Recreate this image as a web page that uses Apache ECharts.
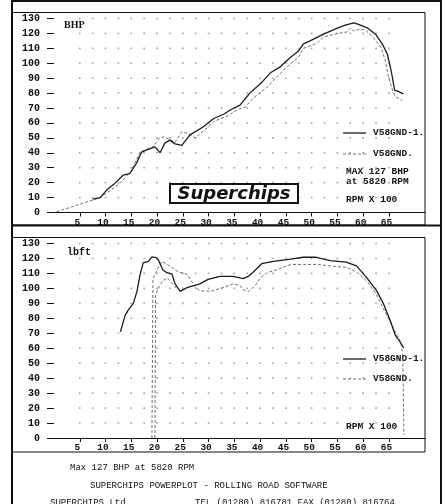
<!DOCTYPE html>
<html>
<head>
<meta charset="utf-8">
<title>Superchips powerplot</title>
<script src="https://cdn.jsdelivr.net/npm/echarts@6.0.0/dist/echarts.min.js"></script>
<style>
  html, body { margin: 0; padding: 0; background: #fff; }
  #main { width: 446px; height: 504px; }
</style>
</head>
<body>
<div id="main"></div>
<script>
// rpm x 100 on the x axis, [rpm, value] pairs
const bhpTuned = [
  [7.5, 9], [9, 10], [10.2, 15], [11.8, 19.5], [13.4, 25], [14.7, 26], [16, 33],
  [17, 40.5], [18, 42], [19.6, 44], [20.6, 40], [21.5, 46.5], [22.5, 48.5],
  [23.5, 46], [24.8, 45], [26.4, 52], [29, 57.5], [31, 63], [33, 66], [34.2, 68.7],
  [36.1, 72], [38, 80], [40.4, 87.5], [42, 93.6], [43.9, 97.6], [45.8, 103.7],
  [47.4, 108], [48.4, 113], [49.7, 115], [52.3, 119.5], [55, 123.5], [56.5, 125.5],
  [58.2, 127], [59.1, 126], [60.9, 123.5], [62.4, 119.5], [63.7, 113], [64.7, 106],
  [65.3, 97], [65.7, 90], [66.1, 82], [66.9, 81], [67.8, 79.5]
];
const bhpStock = [
  [0.5, 0.5], [9, 10], [12.8, 19.5], [15, 28], [16.7, 40.5], [19.2, 44], [20.6, 50.5],
  [21.5, 50.5], [23.5, 47], [24.8, 54], [26, 53], [27.4, 50], [29.7, 56.6], [31, 61],
  [33.8, 65], [35.5, 68.7], [37.1, 70.7], [38.7, 76.8], [41.4, 84], [43.3, 91],
  [45.2, 97.6], [47.4, 104], [48.4, 110], [51.1, 113.5], [52.3, 117.5], [55, 120],
  [56.9, 121], [57.5, 123.5], [58.2, 121.5], [58.9, 122.5], [60.4, 122.5], [62, 117],
  [63.4, 111], [64.3, 102], [64.9, 91], [65.7, 82], [66.3, 77.5], [66.9, 76.5], [67.6, 75]
];
const torqueTuned = [
  [12.9, 71], [13.8, 82], [14.4, 85.5], [15.4, 90], [16.1, 98], [16.7, 109], [17.3, 117],
  [18.3, 118], [19, 121], [19.8, 120.5], [20.2, 119.5], [21.1, 112.5], [21.9, 110.5],
  [22.9, 109.5], [23.5, 103], [24.5, 98], [25.8, 100.5], [28.3, 103], [29.9, 106],
  [32.2, 108], [34.8, 108], [36.7, 106.5], [37.7, 108], [38.7, 111], [40.3, 116.5],
  [42.6, 118], [45.9, 119.5], [48.4, 120.8], [50.9, 120.8], [53.6, 118.5], [56.7, 117.5],
  [58.7, 115], [60.6, 107.5], [62.6, 98.5], [63.9, 90], [65.3, 78], [66.2, 69],
  [67.2, 64], [67.9, 60]
];
// stock run has a glitchy start, two traces climbing out of zero near 1900 rpm
const torqueStockGlitch = [
  [19.6, 0], [19.7, 95], [20.2, 100], [21.1, 105], [22, 107], [24, 99]
];
const torqueStock = [
  [19.0, 0], [19.2, 106], [20.3, 115], [20.9, 118], [21.5, 117], [22.9, 114], [24.1, 111],
  [25.8, 109.5], [27.3, 101.5], [28.3, 98.5], [30.3, 98], [32.8, 100.5], [34.8, 103],
  [36.1, 102], [36.7, 99], [37.7, 98], [39, 101.5], [40, 107], [41.4, 110.5],
  [43.3, 112.5], [45.9, 116], [48.4, 116], [51.1, 116], [53.6, 115], [56.9, 114],
  [58.9, 110.5], [60.8, 104.5], [62.4, 97], [63.7, 88], [64.9, 80], [66.3, 70.5],
  [67.3, 64], [67.7, 55], [67.9, 2]
];

const xTicks = [5, 10, 15, 20, 25, 30, 35, 40, 45, 50, 55, 60, 65];
const gridCols = [5, 7.5, 10, 12.5, 15, 17.5, 20, 22.5, 25, 27.5, 30, 32.5, 35, 37.5,
  40, 42.5, 45, 47.5, 50, 52.5, 55, 57.5, 60, 62.5, 65];
const gridRows = [10, 20, 30, 40, 50, 60, 70, 80, 90, 100, 110, 120, 130];

const nameTuned = "V58GND-1.";
const nameStock = "V58GND.";

// dotted background of the plotter, one dot per crossing
const dots = [];
gridRows.forEach(function (r) {
  gridCols.forEach(function (c) {
    dots.push([c, r]);
  });
});

const mono = "Liberation Mono";
const ink = "#111";

function xAxisFor(gridIndex) {
  return {
    type: "value",
    gridIndex: gridIndex,
    min: 0,
    max: 72,
    interval: 5,
    splitLine: { show: false },
    axisLine: { show: true, lineStyle: { color: ink, width: 1 } },
    axisTick: { show: true, customValues: xTicks, length: 4, lineStyle: { color: ink } },
    axisLabel: {
      customValues: xTicks,
      margin: 5,
      padding: [0, 5, 0, 0],
      fontFamily: mono,
      fontWeight: "bold",
      fontSize: 9.5,
      color: ink
    }
  };
}

function yAxisFor(gridIndex) {
  return {
    type: "value",
    gridIndex: gridIndex,
    min: 0,
    max: 130,
    interval: 10,
    splitLine: { show: false },
    axisLine: { show: false },
    axisTick: { show: true, length: 7, lineStyle: { color: ink } },
    axisLabel: {
      margin: 14,
      fontFamily: mono,
      fontWeight: "bold",
      fontSize: 10,
      color: ink
    }
  };
}

function dotSeries(i) {
  return {
    type: "scatter",
    xAxisIndex: i,
    yAxisIndex: i,
    data: dots,
    symbol: "rect",
    symbolSize: 1.6,
    itemStyle: { color: "#8a8a8a" },
    silent: true,
    z: 1
  };
}

function tunedLine(i, data) {
  return {
    type: "line",
    name: nameTuned,
    xAxisIndex: i,
    yAxisIndex: i,
    data: data,
    showSymbol: false,
    lineStyle: { color: "#1c1c1c", width: 1.3 },
    silent: true,
    z: 3
  };
}

function stockLine(i, data) {
  return {
    type: "line",
    name: nameStock,
    xAxisIndex: i,
    yAxisIndex: i,
    data: data,
    showSymbol: false,
    lineStyle: { color: "#707070", width: 1, type: [3, 2] },
    silent: true,
    z: 2
  };
}

function txt(x, y, s, size, extra) {
  return {
    type: "text",
    x: x,
    y: y,
    style: Object.assign({
      text: s,
      fill: ink,
      font: "bold " + size + "px '" + mono + "'",
      textVerticalAlign: "middle"
    }, extra || {})
  };
}

function legendRows(y1, y2) {
  return [
    { type: "line", shape: { x1: 343, y1: y1, x2: 366, y2: y1 }, style: { stroke: "#1c1c1c", lineWidth: 1.3 } },
    txt(373, y1, nameTuned, 9.5),
    { type: "line", shape: { x1: 343, y1: y2, x2: 366, y2: y2 }, style: { stroke: "#707070", lineWidth: 1, lineDash: [3, 2] } },
    txt(373, y2, nameStock, 9.5)
  ];
}

const chart = echarts.init(document.getElementById("main"), null, { renderer: "canvas" });

const option = {
  backgroundColor: "#fff",
  animation: false,
  grid: [
    { left: 54, top: 18.5, width: 371, height: 194 },
    { left: 54, top: 243.5, width: 371, height: 194.5 }
  ],
  xAxis: [xAxisFor(0), xAxisFor(1)],
  yAxis: [yAxisFor(0), yAxisFor(1)],
  series: [
    dotSeries(0),
    dotSeries(1),
    stockLine(0, bhpStock),
    tunedLine(0, bhpTuned),
    stockLine(1, torqueStockGlitch),
    stockLine(1, torqueStock),
    tunedLine(1, torqueTuned)
  ],
  graphic: [
    // frames
    { type: "rect", shape: { x: 12, y: 1, width: 429, height: 530 }, style: { fill: null, stroke: ink, lineWidth: 2 } },
    { type: "rect", shape: { x: 12, y: 12.5, width: 413, height: 212.5 }, style: { fill: null, stroke: ink, lineWidth: 1 } },
    { type: "line", shape: { x1: 12, y1: 225.5, x2: 441, y2: 225.5 }, style: { stroke: ink, lineWidth: 2 } },
    { type: "rect", shape: { x: 12, y: 237.5, width: 413, height: 214.5 }, style: { fill: null, stroke: ink, lineWidth: 1 } },

    // top panel labels
    txt(64, 25, "BHP", 10, { font: "bold 10px 'Liberation Serif'" }),
    {
      type: "rect",
      shape: { x: 170, y: 184, width: 128, height: 19 },
      style: { fill: "#fff", stroke: ink, lineWidth: 2 },
      z: 10
    },
    {
      type: "text",
      x: 234,
      y: 194,
      z: 11,
      style: {
        text: "Superchips",
        fill: ink,
        font: "italic bold 18px 'DejaVu Sans'",
        textAlign: "center",
        textVerticalAlign: "middle"
      }
    },
    ...legendRows(133, 154),
    txt(346, 172, "MAX 127 BHP", 9.5),
    txt(346, 182, "at 5820 RPM", 9.5),
    txt(346, 200, "RPM X 100", 9.5),

    // bottom panel labels
    txt(67, 252, "lbft", 10),
    ...legendRows(359, 379),
    txt(346, 427, "RPM X 100", 9.5),

    // footer
    txt(70, 468, "Max 127 BHP at 5820 RPM", 9, { font: "9px '" + mono + "'" }),
    txt(90, 486, "SUPERCHIPS POWERPLOT - ROLLING ROAD SOFTWARE", 9, { font: "9px '" + mono + "'" }),
    txt(50, 503, "SUPERCHIPS Ltd", 9, { font: "9px '" + mono + "'" }),
    txt(195, 503, "TEL (01280) 816781 FAX (01280) 816764", 9, { font: "9px '" + mono + "'" })
  ]
};

chart.setOption(option);
</script>
</body>
</html>
